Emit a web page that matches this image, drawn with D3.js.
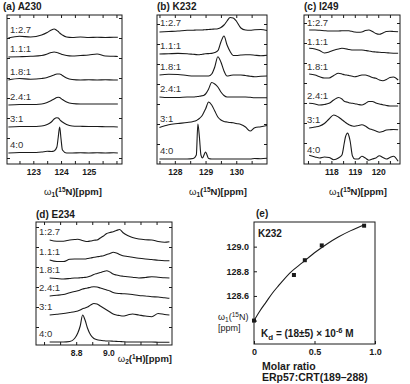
<!DOCTYPE html>
<html>
<head>
<meta charset="utf-8">
<script src="https://cdn.jsdelivr.net/npm/d3@7"></script>
<style>
body { margin: 0; background: #fff; }
svg { display: block; font-family: "Liberation Sans", Arial, sans-serif; }
</style>
</head>
<body>
<svg></svg>
<script>
// titration ratios, top trace first
const ratios = ["1:2.7", "1.1:1", "1.8:1", "2.4:1", "3:1", "4:0"];

// (a) A230, 15N dimension
const ppmA = [122.1, 122.5, 122.9, 123.3, 123.5, 123.65, 123.75, 123.85, 123.9, 123.95, 124.0, 124.05, 124.2, 124.4, 124.7, 125.0, 125.3, 125.6, 125.9, 126.05];
const specA = [
  [0, 1.7, 1, 3, 5.5, 8, 9, 7.5, 6.5, 5, 4, 3, 1, 0.5, 1, 0.5, 0.8, 0.5, 0.7, 0.7],
  [0, 0.3, 0.7, 1.5, 3, 4.5, 5, 4.5, 4, 3.5, 3, 2.5, 1.5, 1, 1.5, 2, 3, 1, 0.7, 0.5],
  [0, 1.5, 0.7, 1.5, 2.5, 4, 5, 6, 6, 6, 5.5, 4.5, 2, 0.5, 0, 0.3, 0, 0.3, 0, 0],
  [0, 0.5, 0.5, 1, 2.5, 4.5, 6, 7.5, 7.7, 7.5, 6.5, 5.5, 3, 1.5, 1, 1, 1, 1, 1, 1],
  [0, 0.5, 0.5, 1, 2.5, 5, 8, 9.3, 9, 7.5, 6, 5, 2.5, 1, 0.7, 0.5, 0.5, 0.3, 0.2, 0],
  [0, 0.5, 0.5, 1, 1.7, 1.5, 2, 6, 16, 26, 14, 3, 0, 0, 0.3, 0, 0.3, 0, 0.3, 0]
];
const stackA = [115, 96, 73, 48, 26, 0];

// (b) K232
const ppmB = [127.5, 127.8, 128.1, 128.4, 128.6, 128.7, 128.75, 128.8, 128.85, 128.9, 128.95, 129.0, 129.1, 129.2, 129.3, 129.4, 129.5, 129.6, 129.7, 129.8, 129.9, 130.0, 130.15, 130.3, 130.45, 130.6, 130.8, 131.0];
const specB = [
  [-1, -0.5, 0, 0.7, 0.8, 1, 1, 1, 1, 1, 1.2, 1.3, 1.5, 1.8, 2, 2.3, 3.5, 6, 10, 13.5, 13, 10, 3, 1, 0.7, 1.2, 1.5, 0.5],
  [0, 0.3, 0.6, 0.3, -0.3, -0.6, -0.7, -0.7, -0.5, -0.3, 0, 0.2, 0.4, 0.6, 1.5, 3.3, 12, 18, 9, 2.5, -1.5, -1.5, -1, -0.7, -0.8, -1.2, -1.7, -1.2],
  [0, 0.8, 0.5, -0.5, -1, -1, -1, -1, -1, -1, -1, -1, -1, 1, 8, 18.3, 13, 4, -1, -0.5, 0, 0, 0, -0.5, -1.2, -1.7, -1.2, -1],
  [0, -0.5, -0.5, 0, 0, 0.3, 0.5, 0.7, 1, 1.3, 1.8, 3, 8, 14.5, 13, 10, 5, 1.5, 0, 0, 0, 0, 0, 0, -0.3, -0.7, -0.7, -0.7],
  [-0.5, 2.3, 3.5, 4.5, 5.5, 6.5, 7.5, 8.5, 10, 12, 15, 18, 25, 22, 16, 10, 7, 5.5, 5, 4.5, 4.3, 3.5, 2.5, 0, -4, -0.7, 0.3, 1.5],
  [0, 0, 0, 0, 0.5, 4, 35, 22, 4, 1, 4, 7, 0.5, 0, 0, 0, 0, 0, 0, 0, 0, 0, 0, 0, 0, 0.5, 0.3, 0.7]
];
const stackB = [128, 105, 84, 62, 32, 0];

// (c) I249
const ppmC = [117.05, 117.3, 117.5, 117.7, 117.9, 118.1, 118.3, 118.45, 118.55, 118.6, 118.65, 118.7, 118.75, 118.8, 118.9, 119.0, 119.15, 119.3, 119.45, 119.6, 119.75, 119.9, 120.05, 120.2, 120.35, 120.5, 120.65, 120.85];
const specC = [
  [1, 1, 0.7, 0.3, 0, 0, 0, 0.3, 0.3, 0.3, 0.3, 0.3, 0.2, 0, -0.5, -1, -1.3, -1, 0.5, 1, -0.5, -2.5, -3.3, -2, -0.5, -0.3, -0.5, -0.7],
  [1.7, 1, -0.5, -3, -2, -0.3, 1, 1.7, 1.5, 1.2, 1, 0.7, 0.5, 0.3, 0, 0, 0, 0, -0.5, -1, -1.7, -2, -2.3, -2.5, -2.7, -3, -3.2, -3.3],
  [1, 0, -1.7, -3, -3, -0.5, 1.7, 1, 0.3, 0, 0, -0.3, -0.5, -0.8, -1.3, -1.7, -1, 0, 0, -1, -2.5, -3.3, -5, -5.7, -4.5, -2.5, -2, -5],
  [0.7, 0, -1, -0.5, 0.7, 4, 6.5, 5, 2.8, 2.3, 2, 1.7, 1.3, 1, 0.7, 0.3, -0.5, -1, 0.5, 2.5, 2.5, 1, 0, -0.7, -1.5, -2, -2, -2],
  [0, 1, 2, 4.5, 9, 13, 11, 8.3, 6.5, 5.5, 4.7, 4, 3.3, 2.7, 2, 1.7, 2.5, 3.3, 2, -0.5, -1.7, -3, -4.3, -3.5, -2, -1.7, -1.5, -1.7],
  [2.7, 1, 0, 1, 0.5, -1.7, 0, 3, 15, 21, 24, 25, 22, 17, 2, -1, -1, 1.7, 0, -2.3, -1, 0, 2.3, 0.5, -1, 0.5, 1.7, -3.3]
];
const stackC = [127, 108, 83, 54, 30, 0];

// (d) E234, 1H dimension
const ppmD = [8.635, 8.68, 8.72, 8.76, 8.79, 8.81, 8.825, 8.84, 8.855, 8.87, 8.89, 8.91, 8.93, 8.95, 8.97, 8.99, 9.01, 9.03, 9.05, 9.07, 9.09, 9.12, 9.15, 9.19, 9.23, 9.27, 9.31, 9.35, 9.38];
const specD = [
  [0, -1.2, -1.2, 0, 0.5, 0.7, 0.3, -0.5, -1.2, -1.5, -1, -0.3, 0, 2, 4, 6.5, 7.5, 8.3, 9.5, 10.5, 7.5, 4.5, 2.5, 1, 0.3, 0, -1.5, -2.2, -1.7],
  [0, -1.5, -1.5, 0.7, 1, 1, 1, 1, 1, 1.5, 2, 2.7, 3.2, 3.7, 4.3, 5.5, 6.5, 7.7, 7, 5.5, 4.3, 3.5, 2.7, 1.7, 1, 0.5, -0.3, -0.7, -0.7],
  [0, -0.5, -1, -0.5, 0, 0, 0.2, 0.4, 0.6, 1, 2, 3.5, 4.5, 5.5, 6.5, 7.3, 6, 4, 3, 2.3, 1.8, 1.2, 0.8, 0, 0.5, 1.3, 0.8, 0.2, 0],
  [0, 0.7, 1.5, 3.3, 4.5, 5.2, 6, 7, 7.5, 8, 8.8, 9.3, 9, 8, 7, 6, 5, 3.5, 2.7, 2.5, 2.3, 2, 1.5, 0.5, 0, -0.7, -1, -1.8, -2.3],
  [0, 0.8, 1.5, 2.5, 3.3, 4, 5, 6.3, 7, 8, 10, 11.5, 11, 9, 7, 5, 3, 1, 0, -0.5, -1, 0, 1, 0, -1, -1.7, 1.5, 0.5, 0],
  [0, 0, 0, 0.5, 3.5, 9, 16, 27, 22, 14, 7, 3.5, 2.3, 1.7, 1.3, 1, 1, 0.8, 0.6, 0.5, 0.3, 0, 0, 0, 0, 0, -0.2, -0.3, -0.3]
];
const stackD = [102, 82, 64, 46, 27, 0];

// (e) K232 titration
const ratioE = [0, 0.33, 0.42, 0.56, 0.91];
const shiftE = [128.40, 128.77, 128.89, 129.01, 129.17];
const fitX = [0, 0.05, 0.1, 0.15, 0.2, 0.3, 0.4, 0.5, 0.6, 0.7, 0.8, 0.92];
const fitY = [128.40, 128.48, 128.55, 128.62, 128.68, 128.79, 128.87, 128.95, 129.02, 129.08, 129.13, 129.18];

const ink = "#1a1a1a";

let svg = d3.select("svg")
  .attr("width", 410)
  .attr("height", 384);

// ω with subscript dimension and superscript isotope
function nucleusLabel(sel, dim, iso, rest) {
  sel.append("tspan").text("ω").style("font-weight", "normal");
  sel.append("tspan").text(dim).attr("dy", 2).style("font-size", "6.5px");
  sel.append("tspan").text("(").attr("dy", -2);
  sel.append("tspan").text(iso).attr("dy", -3).style("font-size", "6.5px");
  sel.append("tspan").text(rest).attr("dy", 3);
}

function noDomain(g) { g.select(".domain").remove(); }

function drawSpectra(p) {
  const x = d3.scaleLinear().domain(p.dom).range([p.x0, p.x1]);
  const y = d3.scaleLinear().domain([0, 100]).range([p.base, p.base - 100]);
  const g = svg.append("g");

  const minor = d3.range(Math.ceil(p.dom[0] / p.step - 1e-9) * p.step, p.dom[1], p.step);
  const isMajor = d => p.major.some(m => Math.abs(m - d) < 1e-6);

  g.append("g")
    .attr("transform", `translate(0,${p.y1})`)
    .call(d3.axisBottom(x).tickValues(minor).tickSize(-3).tickPadding(5)
      .tickFormat(d => isMajor(d) ? d3.format(p.fmt)(d) : ""))
    .call(noDomain)
    .call(a => a.selectAll("text").style("font-size", "8.5px").style("font-weight", "bold").attr("fill", ink))
    .call(a => a.selectAll("line").attr("stroke", ink));

  g.append("g")
    .attr("transform", `translate(0,${p.y0})`)
    .call(d3.axisTop(x).tickValues(minor).tickSize(-3).tickFormat(""))
    .call(noDomain)
    .call(a => a.selectAll("line").attr("stroke", ink));

  const side = d3.range(-5, y.invert(p.y0), 20).filter(v => y(v) > p.y0 + 2 && y(v) < p.y1 - 2);
  g.append("g")
    .attr("transform", `translate(${p.x0},0)`)
    .call(d3.axisLeft(y).tickValues(side).tickSize(-3).tickFormat(""))
    .call(noDomain)
    .call(a => a.selectAll("line").attr("stroke", ink));
  g.append("g")
    .attr("transform", `translate(${p.x1},0)`)
    .call(d3.axisRight(y).tickValues(side).tickSize(-3).tickFormat(""))
    .call(noDomain)
    .call(a => a.selectAll("line").attr("stroke", ink));

  g.append("rect")
    .attr("x", p.x0).attr("y", p.y0)
    .attr("width", p.x1 - p.x0).attr("height", p.y1 - p.y0)
    .attr("fill", "none").attr("stroke", ink).attr("stroke-width", 1);

  p.spec.forEach((row, i) => {
    const line = d3.line()
      .x((d, j) => x(p.ppm[j]))
      .y(d => y(p.stack[i] + d))
      .curve(d3.curveMonotoneX);
    g.append("path")
      .attr("d", line(row))
      .attr("fill", "none")
      .attr("stroke", ink)
      .attr("stroke-width", 1.1);
    g.append("text")
      .attr("x", p.x0 + 3)
      .attr("y", y(p.stack[i]) - 5)
      .style("font-size", "9.5px")
      .attr("fill", "#333")
      .text(ratios[i]);
  });

  g.append("text")
    .attr("x", p.tagX).attr("y", p.tagY)
    .style("font-size", "10px").style("font-weight", "bold")
    .attr("fill", ink)
    .text(p.tag);

  const t = g.append("text")
    .attr("x", p.titleX).attr("y", p.titleY)
    .attr("text-anchor", p.anchor)
    .style("font-size", "9.5px").style("font-weight", "bold")
    .attr("fill", ink);
  nucleusLabel(t, p.dim, p.iso, p.nuc + ")[ppm]");
}

drawSpectra({tag: "(a) A230", tagX: 3, tagY: 10, ppm: ppmA, spec: specA, stack: stackA,
  dom: [122.05, 126.2], major: [123, 124, 125], step: 0.5, fmt: "d",
  x0: 7, x1: 122, y0: 15, y1: 164, base: 153,
  titleX: 73, titleY: 195, anchor: "middle", dim: "1", iso: "15", nuc: "N"});
drawSpectra({tag: "(b) K232", tagX: 157, tagY: 10, ppm: ppmB, spec: specB, stack: stackB,
  dom: [127.42, 131.0], major: [128, 129, 130], step: 0.5, fmt: "d",
  x0: 157, x1: 267, y0: 15, y1: 164, base: 159,
  titleX: 218, titleY: 195, anchor: "middle", dim: "1", iso: "15", nuc: "N"});
drawSpectra({tag: "(c) I249", tagX: 304, tagY: 10, ppm: ppmC, spec: specC, stack: stackC,
  dom: [116.83, 120.93], major: [118, 119, 120], step: 0.5, fmt: "d",
  x0: 304, x1: 400, y0: 15, y1: 164, base: 158,
  titleX: 358, titleY: 195, anchor: "middle", dim: "1", iso: "15", nuc: "N"});
drawSpectra({tag: "(d) E234", tagX: 36, tagY: 218, ppm: ppmD, spec: specD, stack: stackD,
  dom: [8.55, 9.396], major: [8.8, 9.0], step: 0.1, fmt: ".1f",
  x0: 36, x1: 172, y0: 222, y1: 345, base: 342,
  titleX: 172, titleY: 362, anchor: "end", dim: "2", iso: "1", nuc: "H"});

// (e) chemical shift vs molar ratio
function drawTitration() {
  const x = d3.scaleLinear().domain([0, 1]).range([254, 375]);
  const y = d3.scaleLinear().domain([128.21, 129.2]).range([344, 222]);
  const g = svg.append("g");

  g.append("g")
    .attr("transform", "translate(0,344)")
    .call(d3.axisBottom(x).tickValues([0, 0.5, 1]).tickSize(-3).tickPadding(5)
      .tickFormat(d => d === 0 ? "0" : d3.format(".1f")(d)))
    .call(noDomain)
    .call(a => a.selectAll("text").style("font-size", "9px").style("font-weight", "bold").attr("fill", ink))
    .call(a => a.selectAll("line").attr("stroke", ink));

  g.append("g")
    .attr("transform", "translate(254,0)")
    .call(d3.axisLeft(y).tickValues([128.4, 128.6, 128.8, 129.0]).tickSize(-3).tickPadding(5)
      .tickFormat(d => d > 128.5 ? d3.format(".1f")(d) : ""))
    .call(noDomain)
    .call(a => a.selectAll("text").style("font-size", "9px").style("font-weight", "bold").attr("fill", ink))
    .call(a => a.selectAll("line").attr("stroke", ink));

  g.append("rect")
    .attr("x", 254).attr("y", 222).attr("width", 121).attr("height", 122)
    .attr("fill", "none").attr("stroke", ink);

  const fit = d3.line()
    .x((d, i) => x(fitX[i]))
    .y(d => y(d))
    .curve(d3.curveMonotoneX);
  g.append("path").attr("d", fit(fitY))
    .attr("fill", "none").attr("stroke", ink).attr("stroke-width", 1.1);

  g.selectAll(".pt")
    .data(shiftE)
    .enter().append("rect")
    .attr("class", "pt")
    .attr("x", (d, i) => x(ratioE[i]) - 2)
    .attr("y", d => y(d) - 2)
    .attr("width", 4).attr("height", 4)
    .attr("fill", ink);

  g.append("text").attr("x", 256).attr("y", 217)
    .style("font-size", "10px").style("font-weight", "bold").attr("fill", ink).text("(e)");
  g.append("text").attr("x", 258).attr("y", 237)
    .style("font-size", "10px").style("font-weight", "bold").attr("fill", ink).text("K232");

  const kd = g.append("text").attr("x", 261).attr("y", 337)
    .style("font-size", "10px").style("font-weight", "bold").attr("fill", ink);
  kd.append("tspan").text("K");
  kd.append("tspan").text("d").attr("dy", 2.5).style("font-size", "8px");
  kd.append("tspan").text(" = (18±5) × 10").attr("dy", -2.5);
  kd.append("tspan").text("-6").attr("dy", -4).style("font-size", "7.5px");
  kd.append("tspan").text(" M").attr("dy", 4);

  const yl = g.append("text").attr("x", 218).attr("y", 320)
    .style("font-size", "9px").attr("fill", ink);
  nucleusLabel(yl, "1", "15", "N)");
  g.append("text").attr("x", 218).attr("y", 331)
    .style("font-size", "9px").attr("fill", ink).text("[ppm]");

  g.append("text").attr("x", 262).attr("y", 370)
    .style("font-size", "10.5px").style("font-weight", "bold").attr("fill", ink).text("Molar ratio");
  g.append("text").attr("x", 262).attr("y", 381)
    .style("font-size", "10.5px").style("font-weight", "bold").attr("fill", ink).text("ERp57:CRT(189–288)");
}

drawTitration();
</script>
</body>
</html>
